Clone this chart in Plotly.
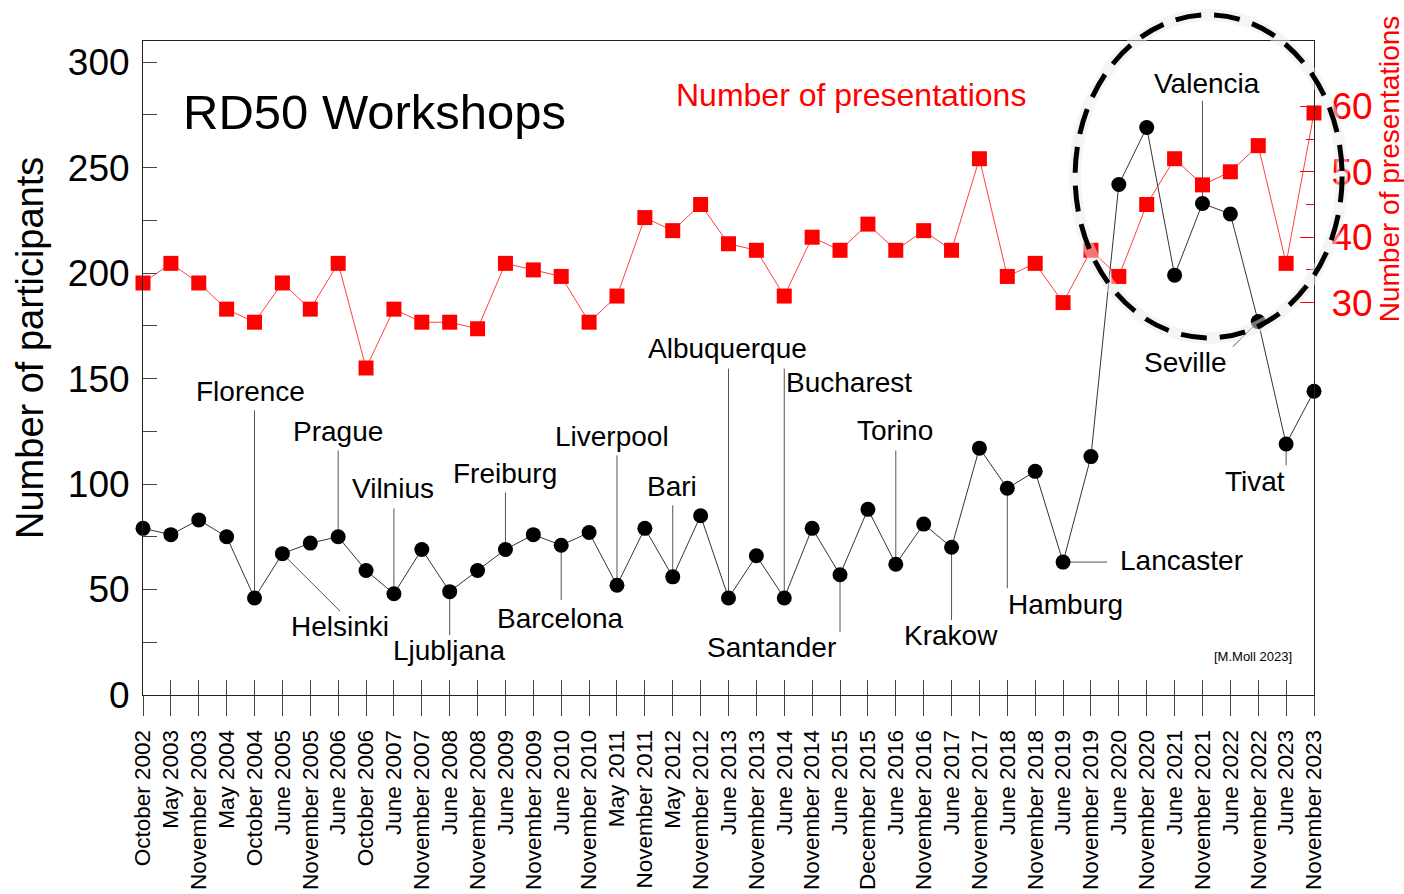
import plotly.graph_objects as go

DATES = ["October 2002", "May 2003", "November 2003", "May 2004", "October 2004",
         "June 2005", "November 2005", "June 2006", "October 2006", "June 2007",
         "November 2007", "June 2008", "November 2008", "June 2009", "November 2009",
         "June 2010", "November 2010", "May 2011", "November 2011", "May 2012",
         "November 2012", "June 2013", "November 2013", "June 2014", "November 2014",
         "June 2015", "December 2015", "June 2016", "November 2016", "June 2017",
         "November 2017", "June 2018", "November 2018", "June 2019", "November 2019",
         "June 2020", "November 2020", "June 2021", "November 2021", "June 2022",
         "November 2022", "June 2023", "November 2023"]

PARTICIPANTS = [79, 76, 83, 75, 46, 67, 72, 75, 59, 48,
                69, 49, 59, 69, 76, 71, 77, 52, 79, 56,
                85, 46, 66, 46, 79, 57, 88, 62, 81, 70,
                117, 98, 106, 63, 113, 242, 269, 199, 233, 228,
                177, 119, 144]

PRESENTATIONS = [33, 36, 33, 29, 27, 33, 29, 36, 20, 29,
                 27, 27, 26, 36, 35, 34, 27, 31, 43, 41,
                 45, 39, 38, 31, 40, 38, 42, 38, 41, 38,
                 52, 34, 36, 30, 38, 34, 45, 52, 48, 50,
                 54, 36, 59]

LEFT_TICKS = [0, 50, 100, 150, 200, 250, 300]
LEFT_MINOR = [25, 75, 125, 175, 225, 275]
RIGHT_TICKS = [30, 40, 50, 60]
RIGHT_MINOR = [35, 45, 55]

# city labels: name, workshop index
CITIES = [("Florence", 4), ("Prague", 7), ("Vilnius", 9), ("Freiburg", 13),
          ("Liverpool", 17), ("Bari", 19), ("Albuquerque", 21), ("Bucharest", 23),
          ("Torino", 27), ("Helsinki", 5), ("Ljubljana", 11), ("Barcelona", 15),
          ("Santander", 25), ("Krakow", 29), ("Hamburg", 31), ("Lancaster", 33),
          ("Valencia", 38), ("Seville", 40), ("Tivat", 41)]

# label layout (in axis units): text x, text y, leader end x, leader end y, anchor
LABEL_POS = {
    "Florence": (3.84, 143.9, 4, 134.9, "center"),
    "Prague": (7.0, 124.9, 7, 115.9, "center"),
    "Vilnius": (8.97, 98.0, 9, 88.5, "center"),
    "Freiburg": (12.98, 105.0, 13, 96.0, "center"),
    "Liverpool": (16.82, 122.6, 17, 113.6, "center"),
    "Bari": (18.97, 98.9, 19, 89.9, "center"),
    "Albuquerque": (20.95, 164.2, 21, 154.7, "center"),
    "Bucharest": (25.32, 148.1, 23, 154.7, "center"),
    "Torino": (26.97, 125.4, 27, 115.9, "center"),
    "Helsinki": (7.07, 32.7, 7.07, 39.7, "center"),
    "Ljubljana": (10.98, 21.3, 11, 28.4, "center"),
    "Barcelona": (14.96, 36.4, 15, 45.0, "center"),
    "Santander": (22.56, 22.7, 25, 29.8, "center"),
    "Krakow": (28.98, 28.4, 29, 35.5, "center"),
    "Hamburg": (33.1, 43.1, 31, 50.6, "center"),
    "Lancaster": (34.97, 63.9, 34.58, 63, "left"),
    "Valencia": (38.16, 290.0, 38, 281.6, "center"),
    "Seville": (37.37, 157.6, 39.09, 165.1, "center"),
    "Tivat": (39.88, 101.3, 41, 108.8, "center"),
}

FONT = "Liberation Sans, Arial, sans-serif"
xs = list(range(len(DATES)))

fig = go.Figure()

# leader lines
lx, ly = [], []
for name, idx in CITIES:
    tx, ty, ex, ey, _ = LABEL_POS[name]
    lx += [idx, ex, None]
    ly += [PARTICIPANTS[idx], ey, None]
fig.add_trace(go.Scatter(x=lx, y=ly, mode="lines", line=dict(color="#555555", width=1),
                         hoverinfo="skip", showlegend=False))

fig.add_trace(go.Scatter(x=xs, y=PARTICIPANTS, mode="lines+markers", name="Participants",
                         line=dict(color="#333333", width=1),
                         marker=dict(symbol="circle", size=15, color="black"),
                         cliponaxis=False, showlegend=False))

fig.add_trace(go.Scatter(x=xs, y=PRESENTATIONS, mode="lines+markers", name="Presentations",
                         yaxis="y2", line=dict(color="#ff4040", width=1),
                         marker=dict(symbol="square", size=15, color="#ff0000"),
                         cliponaxis=False, showlegend=False))

# dummy trace to activate the outer-tick x axis
fig.add_trace(go.Scatter(x=[None], y=[None], xaxis="x2", yaxis="y", mode="markers",
                         showlegend=False, hoverinfo="skip"))

annotations = []
for name, idx in CITIES:
    tx, ty, ex, ey, anc = LABEL_POS[name]
    annotations.append(dict(x=tx, y=ty, xref="x", yref="y", text=name, showarrow=False,
                            xanchor=anc, yanchor="middle",
                            font=dict(family=FONT, size=28, color="black")))

def paper_text(x, y, text, size, color="black", angle=0):
    return dict(x=x, y=y, xref="paper", yref="paper", text=text, showarrow=False,
                xanchor="center", yanchor="middle", textangle=angle,
                font=dict(family=FONT, size=size, color=color))

annotations += [
    paper_text(0.198, 0.891, "RD50 Workshops", 49),
    paper_text(0.6046, 0.9174, "Number of presentations", 32, "#ff0000"),
    paper_text(-0.0965, 0.5306, "Number of participants", 38, angle=-90),
    paper_text(1.0641, 0.804, "Number of presentations", 28, "#ff0000", angle=-90),
    paper_text(0.948, 0.0596, "[M.Moll 2023]", 13),
]

shapes = [
    dict(type="circle", xref="paper", yref="paper", x0=0.796, x1=1.024, y0=0.546, y1=1.040,
         line=dict(color="rgba(236,236,236,0.5)", width=12), layer="above"),
    dict(type="circle", xref="paper", yref="paper", x0=0.796, x1=1.024, y0=0.546, y1=1.040,
         line=dict(color="black", width=5, dash="26px,13px"), layer="above"),
]

fig.update_layout(
    width=1404, height=894,
    margin=dict(l=143, r=90, t=41, b=199, autoexpand=False),
    paper_bgcolor="white", plot_bgcolor="white",
    font=dict(family=FONT, color="black"),
    showlegend=False,
    xaxis=dict(range=[0, 42], tickvals=xs, ticktext=DATES, tickangle=-90,
               ticks="inside", ticklen=15, tickcolor="#444444", tickwidth=1,
               ticklabelstandoff=25, automargin=False,
               showline=True, linecolor="#222222", linewidth=1, mirror=True,
               showgrid=False, zeroline=False,
               tickfont=dict(family=FONT, size=22.5, color="black")),
    xaxis2=dict(range=[0, 42], overlaying="x", anchor="y", side="bottom",
                tickvals=xs, ticks="outside", ticklen=20, tickcolor="#444444", tickwidth=1,
                showticklabels=False, showline=False, showgrid=False, zeroline=False,
                automargin=False),
    yaxis=dict(range=[0, 310], tickvals=LEFT_TICKS, ticks="inside", ticklen=14,
               tickcolor="#444444", showline=True, linecolor="#222222", linewidth=1,
               ticklabelstandoff=5, automargin=False,
               minor=dict(tickvals=LEFT_MINOR, ticks="inside", ticklen=14, tickcolor="#444444"),
               showgrid=False, zeroline=False,
               tickfont=dict(family=FONT, size=37, color="black")),
    yaxis2=dict(range=[-30, 70], overlaying="y", side="right", anchor="x",
                tickvals=RIGHT_TICKS, ticks="inside", ticklen=14, tickcolor="#ff0000",
                ticklabelstandoff=9, automargin=False,
                minor=dict(tickvals=RIGHT_MINOR, ticks="inside", ticklen=8, tickcolor="#ff0000"),
                showline=True, linecolor="#222222", linewidth=1,
                showgrid=False, zeroline=False,
                tickfont=dict(family=FONT, size=37, color="#ff0000")),
    annotations=annotations,
    shapes=shapes,
)

fig.write_html("out.html", config={"displayModeBar": False},
               post_script="document.body.style.margin='0';")
